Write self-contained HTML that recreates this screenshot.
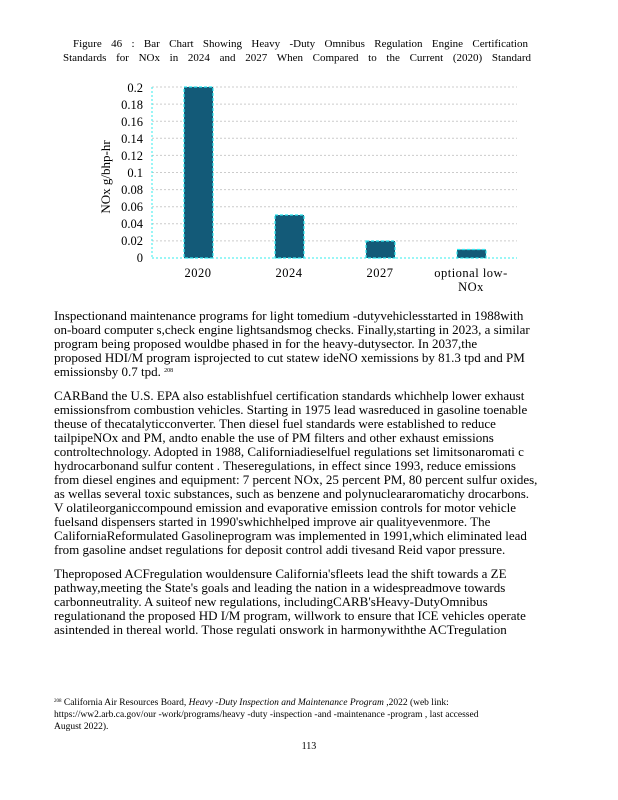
<!DOCTYPE html>
<html><head><meta charset="utf-8"><style>
body{margin:0;background:#fff;}
.pg{position:relative;width:618px;height:800px;overflow:hidden;font-family:"Liberation Serif",serif;color:#000;}
.t{position:absolute;font-size:11px;line-height:14px;text-align:justify;text-align-last:justify;white-space:nowrap;}
.p{position:absolute;left:54px;font-size:13px;line-height:14px;white-space:nowrap;}
.f{position:absolute;left:54px;font-size:9.5px;line-height:12px;white-space:nowrap;}
.s{position:relative;top:-4px;line-height:0;vertical-align:baseline;}
</style></head><body><div class="pg">
<div class="t" style="left:73px;top:37px;width:455px">Figure 46 : Bar Chart Showing Heavy -Duty Omnibus Regulation Engine Certification</div>
<div class="t" style="left:63px;top:51px;width:468px">Standards for NOx in 2024 and 2027 When Compared to the Current (2020) Standard</div>
<svg style="position:absolute;left:0;top:0" width="618" height="300" font-family="Liberation Serif, serif">
<g stroke="#ccc" stroke-dasharray="2,2" stroke-width="1">
<line x1="152" x2="517" y1="87" y2="87"/><line x1="152" x2="517" y1="104.1" y2="104.1"/><line x1="152" x2="517" y1="121.2" y2="121.2"/><line x1="152" x2="517" y1="138.3" y2="138.3"/><line x1="152" x2="517" y1="155.4" y2="155.4"/><line x1="152" x2="517" y1="172.5" y2="172.5"/><line x1="152" x2="517" y1="189.6" y2="189.6"/><line x1="152" x2="517" y1="206.7" y2="206.7"/><line x1="152" x2="517" y1="223.8" y2="223.8"/><line x1="152" x2="517" y1="240.9" y2="240.9"/>
</g>
<line x1="152" x2="517" y1="258" y2="258" stroke="#3ee" stroke-dasharray="2,2"/>
<line x1="152" x2="152" y1="87" y2="258" stroke="#3ee" stroke-dasharray="2,2"/>
<g fill="#135a78" stroke="#2ee8f0" stroke-dasharray="3,2" stroke-width="1.2">
<rect x="184" y="87" width="29" height="171"/>
<rect x="275" y="215" width="29" height="43"/>
<rect x="366" y="241" width="29" height="17"/>
<rect x="457" y="249.5" width="29" height="8.5"/>
</g>
<g font-size="12.5" text-anchor="end">
<text x="143" y="92">0.2</text><text x="143" y="109">0.18</text><text x="143" y="126">0.16</text><text x="143" y="143">0.14</text><text x="143" y="160">0.12</text><text x="143" y="177">0.1</text><text x="143" y="194">0.08</text><text x="143" y="211">0.06</text><text x="143" y="228">0.04</text><text x="143" y="245">0.02</text><text x="143" y="262">0</text>
</g>
<text transform="translate(110,177) rotate(-90)" font-size="13" text-anchor="middle">NOx g/bhp-hr</text>
<g font-size="12.5" text-anchor="middle" letter-spacing="0.5">
<text x="198" y="277">2020</text><text x="289" y="277">2024</text><text x="380" y="277">2027</text><text x="471" y="277">optional low-</text><text x="471" y="291">NOx</text>
</g>
</svg>
<div class="p" style="top:309px">Inspectionand maintenance programs for light tomedium -dutyvehiclesstarted in 1988with<br>on-board computer s,check engine lightsandsmog checks. Finally,starting in 2023, a similar<br>program being proposed wouldbe phased in for the heavy-dutysector. In 2037,the<br>proposed HDI/M program isprojected to cut statew ideNO xemissions by 81.3 tpd and PM<br>emissionsby 0.7 tpd. <span class="s" style="font-size:6px">208</span></div>
<div class="p" style="top:389px">CARBand the U.S. EPA also establishfuel certification standards whichhelp lower exhaust<br>emissionsfrom combustion vehicles. Starting in 1975 lead wasreduced in gasoline toenable<br>theuse of thecatalyticconverter. Then diesel fuel standards were established to reduce<br>tailpipeNOx and PM, andto enable the use of PM filters and other exhaust emissions<br>controltechnology. Adopted in 1988, Californiadieselfuel regulations set limitsonaromati c<br>hydrocarbonand sulfur content . Theseregulations, in effect since 1993, reduce emissions<br>from diesel engines and equipment: 7 percent NOx, 25 percent PM, 80 percent sulfur oxides,<br>as wellas several toxic substances, such as benzene and polynucleararomatichy drocarbons.<br>V olatileorganiccompound emission and evaporative emission controls for motor vehicle<br>fuelsand dispensers started in 1990'swhichhelped improve air qualityevenmore. The<br>CaliforniaReformulated Gasolineprogram was implemented in 1991,which eliminated lead<br>from gasoline andset regulations for deposit control addi tivesand Reid vapor pressure.</div>
<div class="p" style="top:567px">Theproposed ACFregulation wouldensure California'sfleets lead the shift towards a ZE<br>pathway,meeting the State's goals and leading the nation in a widespreadmove towards<br>carbonneutrality. A suiteof new regulations, includingCARB'sHeavy-DutyOmnibus<br>regulationand the proposed HD I/M program, willwork to ensure that ICE vehicles operate<br>asintended in thereal world. Those regulati onswork in harmonywiththe ACTregulation</div>
<div class="f" style="top:697px"><span class="s" style="font-size:5px;top:-3px">208</span> California Air Resources Board, <i>Heavy -Duty Inspection and Maintenance Program</i> ,2022 (web link:<br>https://ww2.arb.ca.gov/our -work/programs/heavy -duty -inspection -and -maintenance -program , last accessed<br>August 2022).</div>
<div style="position:absolute;left:0;width:618px;top:741px;text-align:center;font-size:10px">113</div>
</div></body></html>
